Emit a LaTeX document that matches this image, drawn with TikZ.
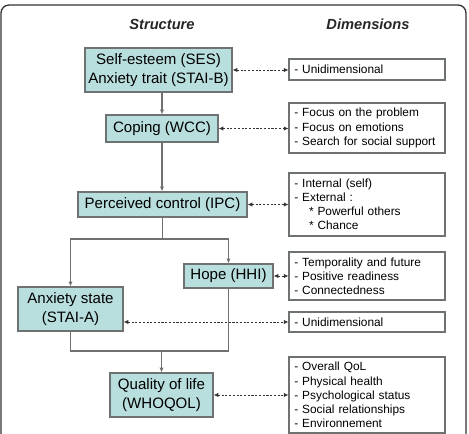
\documentclass[tikz,border=0pt]{standalone}
\usepackage{fontspec}
\setmainfont{Liberation Sans}
\usetikzlibrary{arrows.meta}
\definecolor{boxfill}{HTML}{B9DEDE}
\definecolor{boxline}{HTML}{6E7272}
\definecolor{conn}{HTML}{707070}
\definecolor{frame}{HTML}{333333}
\tikzset{
  sbox/.style={draw=boxline, fill=boxfill, line width=0.9pt, inner sep=0pt, align=center,
    font=\fontsize{11.3}{13.8}\selectfont},
  dbox/.style={draw=boxline, fill=white, line width=0.8pt, inner xsep=4pt, inner ysep=0pt,
    minimum width=156*0.75pt, text width=156*0.75pt-8pt, align=left,
    font=\fontsize{8.9}{10.6}\selectfont},
  hdr/.style={font=\fontsize{11}{13}\selectfont\bfseries\itshape, text=black!85},
  link/.style={draw=conn, line width=0.8pt},
  tip/.style={-{Latex[length=3.5pt,width=3.2pt]}},
  dlink/.style={draw=black!80, line width=0.6pt, dash pattern=on 1.6pt off 1.2pt,
    {Latex[length=3.5pt,width=3.2pt]}-{Latex[length=3.5pt,width=3.2pt]}},
}
\begin{document}
\begin{tikzpicture}[x=0.75pt, y=-0.75pt]
\useasboundingbox (0,0) rectangle (469,434);
\clip (0,0) rectangle (469,434);
\draw[frame, line width=1pt, rounded corners=6pt] (1,470) -- (1,5) -- (466,5) -- (466,470);

\node[hdr] (hdrS) at (162,24) {Structure};
\node[hdr] (hdrD) at (368,24) {Dimensions};

% structure boxes
\node[sbox, minimum width=147*0.75pt, minimum height=44*0.75pt] (ses) at (158.5,70)
  {Self-esteem (SES)\\Anxiety trait (STAI-B)};
\node[sbox, minimum width=112*0.75pt, minimum height=27*0.75pt] (wcc) at (162,128.5) {Coping (WCC)};
\node[sbox, minimum width=169*0.75pt, minimum height=25*0.75pt] (ipc) at (162.5,204.5) {Perceived control (IPC)};
\node[sbox, minimum width=89*0.75pt, minimum height=24*0.75pt] (hhi) at (228.5,276) {Hope (HHI)};
\node[sbox, minimum width=105*0.75pt, minimum height=44*0.75pt] (anx) at (70.5,309) {Anxiety state\\(STAI-A)};
\node[sbox, minimum width=103*0.75pt, minimum height=44*0.75pt] (qol) at (161.5,395) {Quality of life\\(WHOQOL)};

% dimension boxes
\node[dbox, minimum height=21*0.75pt] (d1) at (367,69.5) {- Unidimensional};
\node[dbox, minimum height=50*0.75pt] (d2) at (367,128) {- Focus on the problem\\- Focus on emotions\\- Search for social support};
\node[dbox, minimum height=63*0.75pt] (d3) at (367,204.5) {- Internal (self)\\- External :\\\hspace*{11pt}* Powerful others\\\hspace*{11pt}* Chance};
\node[dbox, minimum height=48*0.75pt] (d4) at (367,276) {- Temporality and future\\- Positive readiness\\- Connectedness};
\node[dbox, minimum height=20*0.75pt] (d5) at (367,322) {- Unidimensional};
\node[dbox, minimum height=76*0.75pt] (d6) at (367,395) {- Overall QoL\\- Physical health\\- Psychological status\\- Social relationships\\- Environnement};

% structure connectors
\coordinate (j1) at (162,239);
\coordinate (j2) at (162,351);
\draw[link, tip] (wcc.north |- ses.south) -- (wcc.north);
\draw[link, tip] (wcc.south) -- (wcc.south |- ipc.north);
\draw[link] (ipc.south) -- (ipc.south |- j1);
\draw[link, tip] (ipc.south |- j1) -| (anx.north);
\draw[link, tip] (ipc.south |- j1) -| (hhi.north);
\draw[link] (anx.south) |- (j2 -| hhi.south) -- (hhi.south);
\draw[link, tip] (qol.north |- j2) -- (qol.north);

% dimension connectors
\draw[dlink] (ses.east) -- (ses.east -| d1.west);
\draw[dlink] (wcc.east) -- (wcc.east -| d2.west);
\draw[dlink] (ipc.east) -- (ipc.east -| d3.west);
\draw[dlink] (hhi.east) -- (hhi.east -| d4.west);
\draw[dlink] (anx.east |- d5.west) -- (d5.west);
\draw[dlink] (qol.east) -- (qol.east -| d6.west);
\end{tikzpicture}
\end{document}
